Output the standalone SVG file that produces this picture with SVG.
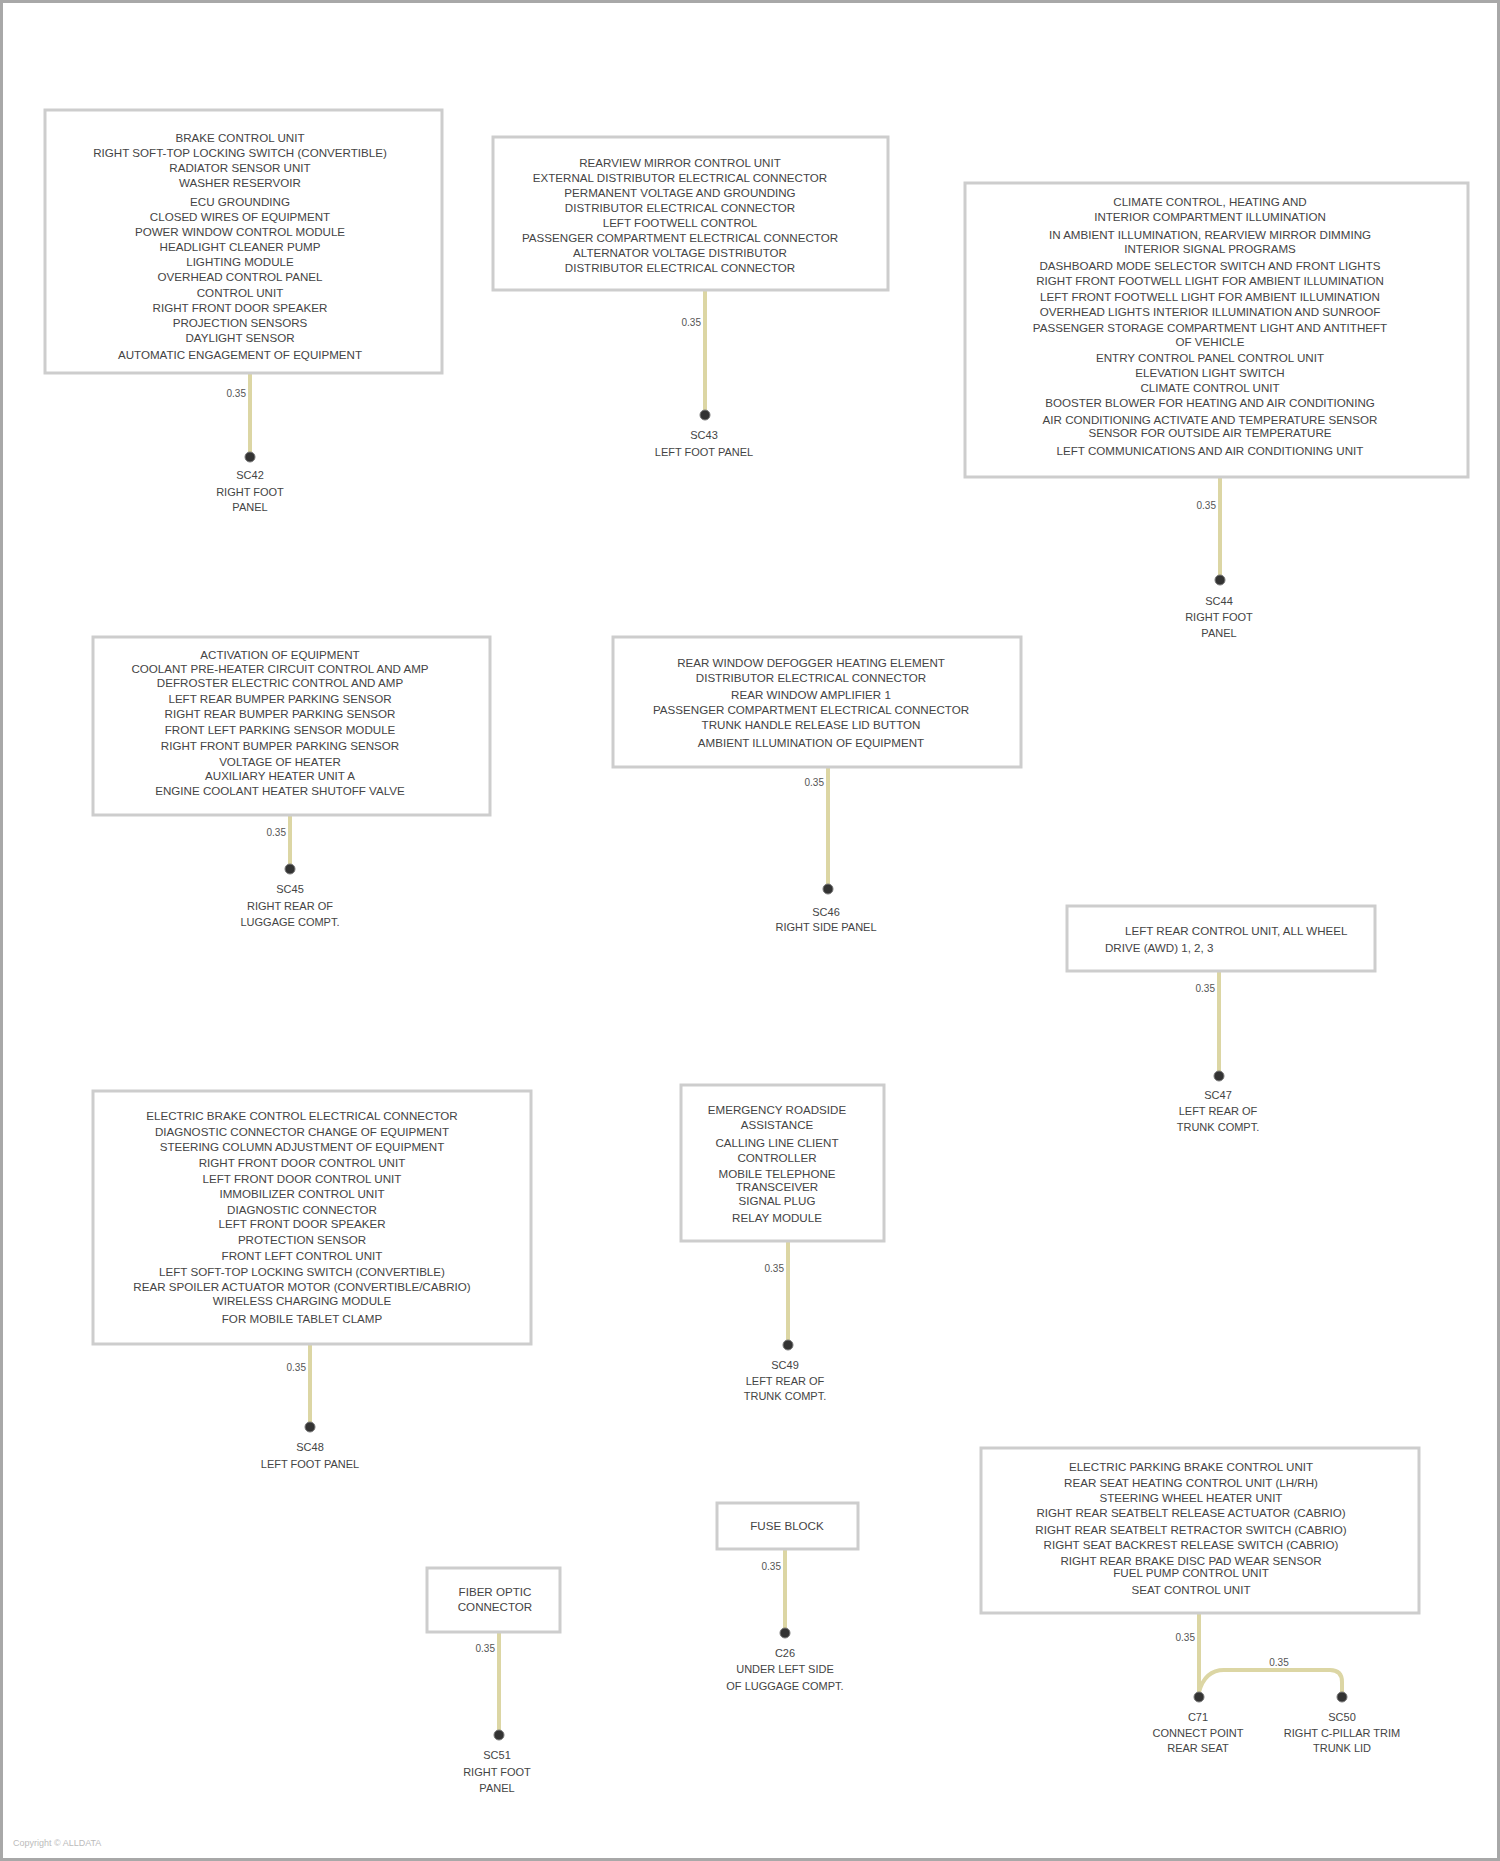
<svg xmlns="http://www.w3.org/2000/svg" width="1500" height="1861" viewBox="0 0 1500 1861">
<style>
.frame{fill:#fff;stroke:#a8a8a8;stroke-width:3}
.box{fill:#fff;stroke:#cdcdcd;stroke-width:3}
.t{font-family:"Liberation Sans",Arial,sans-serif;font-size:11.6px;fill:#444;text-anchor:middle}
.ts{font-family:"Liberation Sans",Arial,sans-serif;font-size:11.6px;fill:#444;text-anchor:start}
.e{font-family:"Liberation Sans",Arial,sans-serif;font-size:11px;fill:#444;text-anchor:middle}
.wire{fill:none;stroke:#dcd6a4;stroke-width:4;stroke-linecap:round;stroke-linejoin:round}
.wl{font-family:"Liberation Sans",Arial,sans-serif;font-size:10px;fill:#555;text-anchor:end}
.wlc{font-family:"Liberation Sans",Arial,sans-serif;font-size:10px;fill:#555;text-anchor:middle}
.dot{fill:#333;stroke:#777;stroke-width:1}
.wm{font-family:"Liberation Sans",Arial,sans-serif;font-size:9px;fill:#bbb}
</style>
<rect class="frame" x="1.5" y="1.5" width="1497" height="1858"/>

<g id="connectors">
  <line class="wire" x1="250" y1="373" x2="250" y2="457"/>
  <text class="wl" x="246" y="397">0.35</text>
  <line class="wire" x1="705" y1="290" x2="705" y2="415"/>
  <text class="wl" x="701" y="326">0.35</text>
  <line class="wire" x1="1220" y1="477" x2="1220" y2="580"/>
  <text class="wl" x="1216" y="509">0.35</text>
  <line class="wire" x1="290" y1="815" x2="290" y2="869"/>
  <text class="wl" x="286" y="836">0.35</text>
  <line class="wire" x1="828" y1="767" x2="828" y2="889"/>
  <text class="wl" x="824" y="786">0.35</text>
  <line class="wire" x1="1219" y1="971" x2="1219" y2="1076"/>
  <text class="wl" x="1215" y="992">0.35</text>
  <line class="wire" x1="310" y1="1344" x2="310" y2="1427"/>
  <text class="wl" x="306" y="1371">0.35</text>
  <line class="wire" x1="788" y1="1241" x2="788" y2="1345"/>
  <text class="wl" x="784" y="1272">0.35</text>
  <line class="wire" x1="1199" y1="1613" x2="1199" y2="1697"/>
  <text class="wl" x="1195" y="1641">0.35</text>
  <path class="wire" d="M1199,1692 Q1205,1670 1224,1670 L1330,1670 Q1342,1670 1342,1682 L1342,1697"/>
  <text class="wlc" x="1279" y="1666">0.35</text>
  <line class="wire" x1="785" y1="1549" x2="785" y2="1633"/>
  <text class="wl" x="781" y="1570">0.35</text>
  <line class="wire" x1="499" y1="1632" x2="499" y2="1735"/>
  <text class="wl" x="495" y="1652">0.35</text>
</g>

<g id="node-brake-control">
  <rect class="box" x="45" y="110" width="397" height="263"/>
  <text class="t" x="240" y="142">BRAKE CONTROL UNIT</text>
  <text class="t" x="240" y="157">RIGHT SOFT-TOP LOCKING SWITCH (CONVERTIBLE)</text>
  <text class="t" x="240" y="172">RADIATOR SENSOR UNIT</text>
  <text class="t" x="240" y="187">WASHER RESERVOIR</text>
  <text class="t" x="240" y="206">ECU GROUNDING</text>
  <text class="t" x="240" y="221">CLOSED WIRES OF EQUIPMENT</text>
  <text class="t" x="240" y="236">POWER WINDOW CONTROL MODULE</text>
  <text class="t" x="240" y="251">HEADLIGHT CLEANER PUMP</text>
  <text class="t" x="240" y="266">LIGHTING MODULE</text>
  <text class="t" x="240" y="281">OVERHEAD CONTROL PANEL</text>
  <text class="t" x="240" y="297">CONTROL UNIT</text>
  <text class="t" x="240" y="312">RIGHT FRONT DOOR SPEAKER</text>
  <text class="t" x="240" y="327">PROJECTION SENSORS</text>
  <text class="t" x="240" y="342">DAYLIGHT SENSOR</text>
  <text class="t" x="240" y="359">AUTOMATIC ENGAGEMENT OF EQUIPMENT</text>
</g>
<g id="node-sc42">
  <circle class="dot" cx="250" cy="457" r="5"/>
  <text class="e" x="250" y="479">SC42</text>
  <text class="e" x="250" y="496">RIGHT FOOT</text>
  <text class="e" x="250" y="511">PANEL</text>
</g>

<g id="node-mirror-control">
  <rect class="box" x="493" y="137" width="395" height="153"/>
  <text class="t" x="680" y="167">REARVIEW MIRROR CONTROL UNIT</text>
  <text class="t" x="680" y="182">EXTERNAL DISTRIBUTOR ELECTRICAL CONNECTOR</text>
  <text class="t" x="680" y="197">PERMANENT VOLTAGE AND GROUNDING</text>
  <text class="t" x="680" y="212">DISTRIBUTOR ELECTRICAL CONNECTOR</text>
  <text class="t" x="680" y="227">LEFT FOOTWELL CONTROL</text>
  <text class="t" x="680" y="242">PASSENGER COMPARTMENT ELECTRICAL CONNECTOR</text>
  <text class="t" x="680" y="257">ALTERNATOR VOLTAGE DISTRIBUTOR</text>
  <text class="t" x="680" y="272">DISTRIBUTOR ELECTRICAL CONNECTOR</text>
</g>
<g id="node-sc43">
  <circle class="dot" cx="705" cy="415" r="5"/>
  <text class="e" x="704" y="439">SC43</text>
  <text class="e" x="704" y="456">LEFT FOOT PANEL</text>
</g>

<g id="node-climate-control">
  <rect class="box" x="965" y="183" width="503" height="294"/>
  <text class="t" x="1210" y="206">CLIMATE CONTROL, HEATING AND</text>
  <text class="t" x="1210" y="221">INTERIOR COMPARTMENT ILLUMINATION</text>
  <text class="t" x="1210" y="239">IN AMBIENT ILLUMINATION, REARVIEW MIRROR DIMMING</text>
  <text class="t" x="1210" y="253">INTERIOR SIGNAL PROGRAMS</text>
  <text class="t" x="1210" y="270">DASHBOARD MODE SELECTOR SWITCH AND FRONT LIGHTS</text>
  <text class="t" x="1210" y="285">RIGHT FRONT FOOTWELL LIGHT FOR AMBIENT ILLUMINATION</text>
  <text class="t" x="1210" y="301">LEFT FRONT FOOTWELL LIGHT FOR AMBIENT ILLUMINATION</text>
  <text class="t" x="1210" y="316">OVERHEAD LIGHTS INTERIOR ILLUMINATION AND SUNROOF</text>
  <text class="t" x="1210" y="332">PASSENGER STORAGE COMPARTMENT LIGHT AND ANTITHEFT</text>
  <text class="t" x="1210" y="346">OF VEHICLE</text>
  <text class="t" x="1210" y="362">ENTRY CONTROL PANEL CONTROL UNIT</text>
  <text class="t" x="1210" y="377">ELEVATION LIGHT SWITCH</text>
  <text class="t" x="1210" y="392">CLIMATE CONTROL UNIT</text>
  <text class="t" x="1210" y="407">BOOSTER BLOWER FOR HEATING AND AIR CONDITIONING</text>
  <text class="t" x="1210" y="424">AIR CONDITIONING ACTIVATE AND TEMPERATURE SENSOR</text>
  <text class="t" x="1210" y="437">SENSOR FOR OUTSIDE AIR TEMPERATURE</text>
  <text class="t" x="1210" y="455">LEFT COMMUNICATIONS AND AIR CONDITIONING UNIT</text>
</g>
<g id="node-sc44">
  <circle class="dot" cx="1220" cy="580" r="5"/>
  <text class="e" x="1219" y="605">SC44</text>
  <text class="e" x="1219" y="621">RIGHT FOOT</text>
  <text class="e" x="1219" y="637">PANEL</text>
</g>

<g id="node-activation">
  <rect class="box" x="93" y="637" width="397" height="178"/>
  <text class="t" x="280" y="659">ACTIVATION OF EQUIPMENT</text>
  <text class="t" x="280" y="673">COOLANT PRE-HEATER CIRCUIT CONTROL AND AMP</text>
  <text class="t" x="280" y="687">DEFROSTER ELECTRIC CONTROL AND AMP</text>
  <text class="t" x="280" y="703">LEFT REAR BUMPER PARKING SENSOR</text>
  <text class="t" x="280" y="718">RIGHT REAR BUMPER PARKING SENSOR</text>
  <text class="t" x="280" y="734">FRONT LEFT PARKING SENSOR MODULE</text>
  <text class="t" x="280" y="750">RIGHT FRONT BUMPER PARKING SENSOR</text>
  <text class="t" x="280" y="766">VOLTAGE OF HEATER</text>
  <text class="t" x="280" y="780">AUXILIARY HEATER UNIT A</text>
  <text class="t" x="280" y="795">ENGINE COOLANT HEATER SHUTOFF VALVE</text>
</g>
<g id="node-sc45">
  <circle class="dot" cx="290" cy="869" r="5"/>
  <text class="e" x="290" y="893">SC45</text>
  <text class="e" x="290" y="910">RIGHT REAR OF</text>
  <text class="e" x="290" y="926">LUGGAGE COMPT.</text>
</g>

<g id="node-rear-window">
  <rect class="box" x="613" y="637" width="408" height="130"/>
  <text class="t" x="811" y="667">REAR WINDOW DEFOGGER HEATING ELEMENT</text>
  <text class="t" x="811" y="682">DISTRIBUTOR ELECTRICAL CONNECTOR</text>
  <text class="t" x="811" y="699">REAR WINDOW AMPLIFIER 1</text>
  <text class="t" x="811" y="714">PASSENGER COMPARTMENT ELECTRICAL CONNECTOR</text>
  <text class="t" x="811" y="729">TRUNK HANDLE RELEASE LID BUTTON</text>
  <text class="t" x="811" y="747">AMBIENT ILLUMINATION OF EQUIPMENT</text>
</g>
<g id="node-sc46">
  <circle class="dot" cx="828" cy="889" r="5"/>
  <text class="e" x="826" y="916">SC46</text>
  <text class="e" x="826" y="931">RIGHT SIDE PANEL</text>
</g>

<g id="node-awd">
  <rect class="box" x="1067" y="906" width="308" height="65"/>
  <text class="ts" x="1125" y="935">LEFT REAR CONTROL UNIT, ALL WHEEL</text>
  <text class="ts" x="1105" y="952">DRIVE (AWD) 1, 2, 3</text>
</g>
<g id="node-sc47">
  <circle class="dot" cx="1219" cy="1076" r="5"/>
  <text class="e" x="1218" y="1099">SC47</text>
  <text class="e" x="1218" y="1115">LEFT REAR OF</text>
  <text class="e" x="1218" y="1131">TRUNK COMPT.</text>
</g>

<g id="node-electric-brake">
  <rect class="box" x="93" y="1091" width="438" height="253"/>
  <text class="t" x="302" y="1120">ELECTRIC BRAKE CONTROL ELECTRICAL CONNECTOR</text>
  <text class="t" x="302" y="1136">DIAGNOSTIC CONNECTOR CHANGE OF EQUIPMENT</text>
  <text class="t" x="302" y="1151">STEERING COLUMN ADJUSTMENT OF EQUIPMENT</text>
  <text class="t" x="302" y="1167">RIGHT FRONT DOOR CONTROL UNIT</text>
  <text class="t" x="302" y="1183">LEFT FRONT DOOR CONTROL UNIT</text>
  <text class="t" x="302" y="1198">IMMOBILIZER CONTROL UNIT</text>
  <text class="t" x="302" y="1214">DIAGNOSTIC CONNECTOR</text>
  <text class="t" x="302" y="1228">LEFT FRONT DOOR SPEAKER</text>
  <text class="t" x="302" y="1244">PROTECTION SENSOR</text>
  <text class="t" x="302" y="1260">FRONT LEFT CONTROL UNIT</text>
  <text class="t" x="302" y="1276">LEFT SOFT-TOP LOCKING SWITCH (CONVERTIBLE)</text>
  <text class="t" x="302" y="1291">REAR SPOILER ACTUATOR MOTOR (CONVERTIBLE/CABRIO)</text>
  <text class="t" x="302" y="1305">WIRELESS CHARGING MODULE</text>
  <text class="t" x="302" y="1323">FOR MOBILE TABLET CLAMP</text>
</g>
<g id="node-sc48">
  <circle class="dot" cx="310" cy="1427" r="5"/>
  <text class="e" x="310" y="1451">SC48</text>
  <text class="e" x="310" y="1468">LEFT FOOT PANEL</text>
</g>

<g id="node-emergency">
  <rect class="box" x="681" y="1085" width="203" height="156"/>
  <text class="t" x="777" y="1114">EMERGENCY ROADSIDE</text>
  <text class="t" x="777" y="1129">ASSISTANCE</text>
  <text class="t" x="777" y="1147">CALLING LINE CLIENT</text>
  <text class="t" x="777" y="1162">CONTROLLER</text>
  <text class="t" x="777" y="1178">MOBILE TELEPHONE</text>
  <text class="t" x="777" y="1191">TRANSCEIVER</text>
  <text class="t" x="777" y="1205">SIGNAL PLUG</text>
  <text class="t" x="777" y="1222">RELAY MODULE</text>
</g>
<g id="node-sc49">
  <circle class="dot" cx="788" cy="1345" r="5"/>
  <text class="e" x="785" y="1369">SC49</text>
  <text class="e" x="785" y="1385">LEFT REAR OF</text>
  <text class="e" x="785" y="1400">TRUNK COMPT.</text>
</g>

<g id="node-parking-brake">
  <rect class="box" x="981" y="1448" width="438" height="165"/>
  <text class="t" x="1191" y="1471">ELECTRIC PARKING BRAKE CONTROL UNIT</text>
  <text class="t" x="1191" y="1487">REAR SEAT HEATING CONTROL UNIT (LH/RH)</text>
  <text class="t" x="1191" y="1502">STEERING WHEEL HEATER UNIT</text>
  <text class="t" x="1191" y="1517">RIGHT REAR SEATBELT RELEASE ACTUATOR (CABRIO)</text>
  <text class="t" x="1191" y="1534">RIGHT REAR SEATBELT RETRACTOR SWITCH (CABRIO)</text>
  <text class="t" x="1191" y="1549">RIGHT SEAT BACKREST RELEASE SWITCH (CABRIO)</text>
  <text class="t" x="1191" y="1565">RIGHT REAR BRAKE DISC PAD WEAR SENSOR</text>
  <text class="t" x="1191" y="1577">FUEL PUMP CONTROL UNIT</text>
  <text class="t" x="1191" y="1594">SEAT CONTROL UNIT</text>
</g>
<g id="node-c71">
  <circle class="dot" cx="1199" cy="1697" r="5"/>
  <text class="e" x="1198" y="1721">C71</text>
  <text class="e" x="1198" y="1737">CONNECT POINT</text>
  <text class="e" x="1198" y="1752">REAR SEAT</text>
</g>
<g id="node-sc50">
  <circle class="dot" cx="1342" cy="1697" r="5"/>
  <text class="e" x="1342" y="1721">SC50</text>
  <text class="e" x="1342" y="1737">RIGHT C-PILLAR TRIM</text>
  <text class="e" x="1342" y="1752">TRUNK LID</text>
</g>

<g id="node-fuse-block">
  <rect class="box" x="717" y="1503" width="141" height="46"/>
  <text class="t" x="787" y="1530">FUSE BLOCK</text>
</g>
<g id="node-c26">
  <circle class="dot" cx="785" cy="1633" r="5"/>
  <text class="e" x="785" y="1657">C26</text>
  <text class="e" x="785" y="1673">UNDER LEFT SIDE</text>
  <text class="e" x="785" y="1690">OF LUGGAGE COMPT.</text>
</g>

<g id="node-fiber">
  <rect class="box" x="427" y="1568" width="133" height="64"/>
  <text class="t" x="495" y="1596">FIBER OPTIC</text>
  <text class="t" x="495" y="1611">CONNECTOR</text>
</g>
<g id="node-sc51">
  <circle class="dot" cx="499" cy="1735" r="5"/>
  <text class="e" x="497" y="1759">SC51</text>
  <text class="e" x="497" y="1776">RIGHT FOOT</text>
  <text class="e" x="497" y="1792">PANEL</text>
</g>

<text class="wm" x="13" y="1846">Copyright © ALLDATA</text>
</svg>
